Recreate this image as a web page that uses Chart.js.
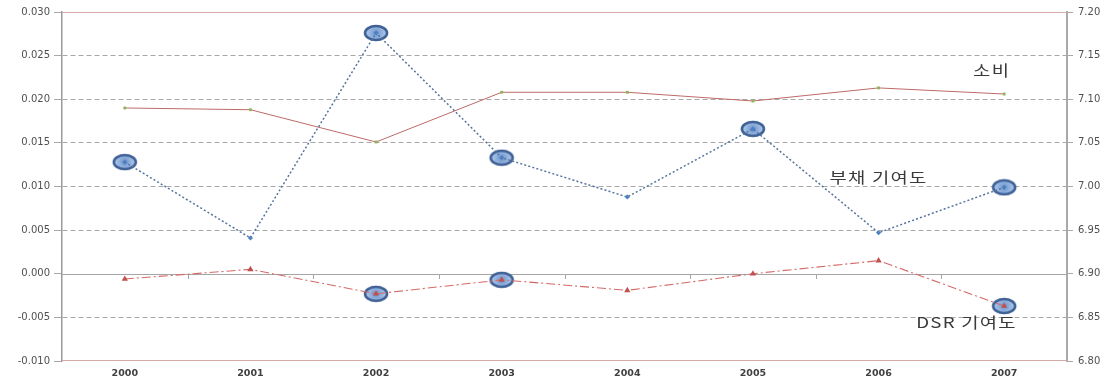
<!DOCTYPE html>
<html>
<head>
<meta charset="utf-8">
<script src="https://cdn.jsdelivr.net/npm/chart.js@4/dist/chart.umd.min.js"></script>
<style>
  html, body { margin: 0; padding: 0; background: #fff; }
  #wrap { width: 1112px; height: 380px; }
</style>
</head>
<body>
<div id="wrap"><canvas id="c" width="1112" height="380"></canvas></div>
<script>
// Years on the category axis
const years = ['2000', '2001', '2002', '2003', '2004', '2005', '2006', '2007'];

// 소비 (right axis)
const consumption = [7.090, 7.088, 7.051, 7.108, 7.108, 7.098, 7.113, 7.106];

// 부채 기여도 (left axis)
const debtContribution = [0.0128, 0.0041, 0.0276, 0.0133, 0.0088, 0.0166, 0.0047, 0.0099];

// DSR 기여도 (left axis)
const dsrContribution = [-0.0006, 0.0005, -0.0023, -0.0007, -0.0019, 0.0000, 0.0015, -0.0037];

// Years whose estimate is circled
const debtCircled = [true, false, true, true, false, true, false, true];
const dsrCircled = [false, false, true, true, false, false, false, true];

// Axis ticks
const leftTicks = [-0.010, -0.005, 0.000, 0.005, 0.010, 0.015, 0.020, 0.025, 0.030];
const rightTicks = [6.80, 6.85, 6.90, 6.95, 7.00, 7.05, 7.10, 7.15, 7.20];

// Series names written inside the plot
const seriesNames = ['소비', '부채 기여도', 'DSR 기여도'];

// Oval marker drawn behind circled points
function makeOval() {
  const w = 28, h = 18;
  const cv = document.createElement('canvas');
  cv.width = w; cv.height = h;
  const g = cv.getContext('2d');
  g.beginPath();
  g.ellipse(w / 2, h / 2, 11, 7, 0, 0, Math.PI * 2);
  const grad = g.createRadialGradient(w / 2, h / 2, 1, w / 2, h / 2, 10);
  grad.addColorStop(0, '#7399d2');
  grad.addColorStop(1, '#b0c9ea');
  g.fillStyle = grad;
  g.fill();
  g.lineWidth = 2.6;
  g.strokeStyle = '#3f6195';
  g.stroke();
  return cv;
}
const oval = makeOval();

const pick = (vals, flags) => vals.map((v, i) => (flags[i] ? v : null));

// Frame lines, zero line with tick marks, and in-plot series names
const framePlugin = {
  id: 'frame',
  beforeDatasetsDraw(chart) {
    const { ctx, chartArea: a, scales } = chart;
    const y0 = scales.y.getPixelForValue(0);
    ctx.save();
    // top and bottom frame
    ctx.strokeStyle = '#d7a9a7';
    ctx.lineWidth = 1.2;
    ctx.beginPath();
    ctx.moveTo(a.left, a.top + 0.5); ctx.lineTo(a.right, a.top + 0.5);
    ctx.moveTo(a.left, a.bottom - 0.5); ctx.lineTo(a.right, a.bottom - 0.5);
    ctx.stroke();
    // zero line
    ctx.strokeStyle = '#a6a6a6';
    ctx.lineWidth = 1;
    ctx.beginPath();
    ctx.moveTo(a.left, Math.round(y0) + 0.5); ctx.lineTo(a.right, Math.round(y0) + 0.5);
    // category boundary ticks
    const x = scales.x;
    for (let i = 1; i < years.length; i++) {
      const px = Math.round(x.getPixelForValue(i - 0.5)) + 0.5;
      ctx.moveTo(px, Math.round(y0)); ctx.lineTo(px, Math.round(y0) + 5);
    }
    ctx.stroke();
    ctx.restore();
  },
  afterDatasetsDraw(chart) {
    const { ctx, scales } = chart;
    const anchors = [
      { text: seriesNames[0], at: 6.9, axis: 'y1', v: 7.133 },
      { text: seriesNames[1], at: 6.0, axis: 'y', v: 0.0110 },
      { text: seriesNames[2], at: 6.7, axis: 'y', v: -0.0056 }
    ];
    ctx.save();
    ctx.fillStyle = '#3a3a3a';
    ctx.font = '15px "Noto Sans CJK KR", "DejaVu Sans", sans-serif';
    ctx.textBaseline = 'middle';
    ctx.textAlign = 'center';
    ctx.letterSpacing = '1px';
    anchors.forEach(t => {
      const px = scales.x.getPixelForValue(t.at);
      const py = scales[t.axis].getPixelForValue(t.v);
      ctx.save();
      ctx.translate(px, py);
      ctx.scale(1.25, 1);
      ctx.fillText(t.text, 0, 0);
      ctx.restore();
    });
    ctx.restore();
  }
};

const tickFont = { family: '"DejaVu Sans", Verdana, sans-serif', size: 10 };

new Chart(document.getElementById('c'), {
  type: 'line',
  data: {
    labels: years,
    datasets: [
      {
        label: seriesNames[0],
        data: consumption,
        yAxisID: 'y1',
        borderColor: '#bd6a66',
        borderWidth: 1,
        pointStyle: 'rect',
        pointRadius: 2,
        pointBackgroundColor: '#8fb35a',
        pointBorderColor: '#8fb35a',
        pointBorderWidth: 0,
        tension: 0,
        order: 3
      },
      {
        label: seriesNames[1] + ' 표시',
        data: pick(debtContribution, debtCircled),
        yAxisID: 'y',
        showLine: false,
        pointStyle: oval,
        pointRadius: 10,
        order: 9
      },
      {
        label: seriesNames[2] + ' 표시',
        data: pick(dsrContribution, dsrCircled),
        yAxisID: 'y',
        showLine: false,
        pointStyle: oval,
        pointRadius: 10,
        order: 9
      },
      {
        label: seriesNames[1],
        data: debtContribution,
        yAxisID: 'y',
        borderColor: '#55739f',
        borderWidth: 1.5,
        borderDash: [2, 2.2],
        pointStyle: 'rectRot',
        pointRadius: 2.6,
        pointBackgroundColor: '#4f81bd',
        pointBorderColor: '#4f81bd',
        pointBorderWidth: 0,
        tension: 0,
        spanGaps: true,
        order: 1
      },
      {
        label: seriesNames[2],
        data: dsrContribution,
        yAxisID: 'y',
        borderColor: '#d46a68',
        borderWidth: 1.1,
        borderDash: [9, 3, 2, 3],
        pointStyle: 'triangle',
        pointRadius: 3.6,
        pointBackgroundColor: '#c0504d',
        pointBorderColor: '#c0504d',
        pointBorderWidth: 0,
        tension: 0,
        order: 2
      }
    ]
  },
  options: {
    responsive: false,
    animation: false,
    layout: { padding: { top: 12, left: 0, right: 0, bottom: 0 } },
    plugins: {
      legend: { display: false },
      tooltip: { enabled: false }
    },
    scales: {
      x: {
        type: 'category',
        offset: true,
        grid: { display: false, drawTicks: false },
        border: { display: false },
        ticks: {
          color: '#404040',
          font: { family: '"DejaVu Sans", Verdana, sans-serif', size: 9.5, weight: 'bold' },
          padding: 7,
          maxRotation: 0
        },
        afterFit(s) { s.height = 19; }
      },
      y: {
        position: 'left',
        min: -0.010,
        max: 0.030,
        afterBuildTicks(s) { s.ticks = leftTicks.map(v => ({ value: v })); },
        ticks: {
          color: '#505050',
          font: tickFont,
          padding: 4,
          callback: v => v.toFixed(3)
        },
        grid: {
          color: c => {
            const v = c.tick ? +c.tick.value.toFixed(4) : null;
            return (v === 0 || v === 0.03 || v === -0.01) ? 'rgba(0,0,0,0)' : '#a9a9a9';
          },
          tickColor: '#a9a9a9',
          tickLength: 8,
          lineWidth: 1
        },
        border: { display: true, color: '#9a9a9a', width: 1.5, dash: [5, 3] },
        afterFit(s) { s.width = 62; }
      },
      y1: {
        position: 'right',
        min: 6.80,
        max: 7.20,
        afterBuildTicks(s) { s.ticks = rightTicks.map(v => ({ value: v })); },
        ticks: {
          color: '#505050',
          font: tickFont,
          padding: 5,
          callback: v => v.toFixed(2)
        },
        grid: {
          drawOnChartArea: false,
          tickColor: '#a9a9a9',
          tickLength: 6
        },
        border: { display: true, color: '#a9a9a9', width: 2 },
        afterFit(s) { s.width = 45; }
      }
    }
  },
  plugins: [framePlugin]
});
</script>
</body>
</html>
